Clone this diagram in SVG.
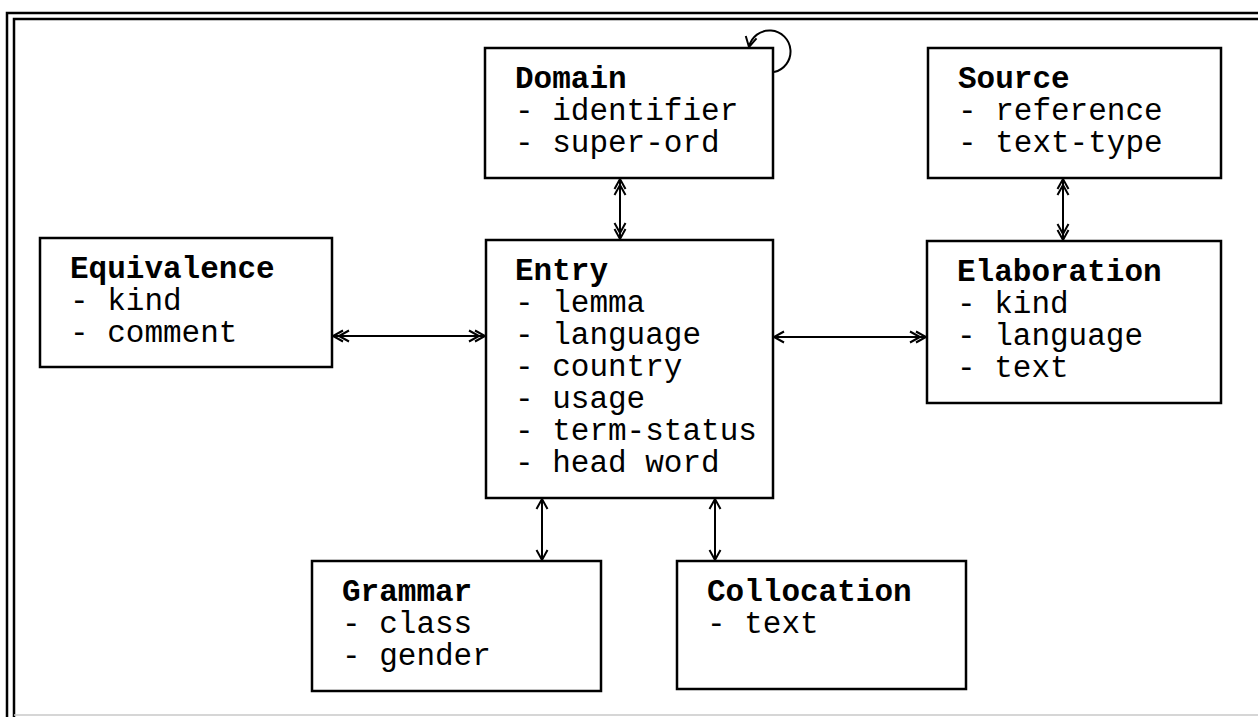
<svg xmlns="http://www.w3.org/2000/svg" width="1258" height="717" viewBox="0 0 1258 717">
<style>
.box{fill:#fff;stroke:#000;stroke-width:2.5}
.t{font-family:"Liberation Mono","Courier New",monospace;font-size:31px;fill:#000}
.b{font-weight:bold}
.c{fill:none;stroke:#000;stroke-width:2}
.frame{fill:none;stroke:#000;stroke-width:2.5}
</style>
<defs>
<marker id="s" markerUnits="userSpaceOnUse" orient="auto-start-reverse" refX="0" refY="0" markerWidth="20" markerHeight="20" viewBox="-20 -10 20 20" overflow="visible">
<path d="M -10 -5.5 L 0 0 L -10 5.5" fill="none" stroke="#000" stroke-width="2"/>
</marker>
<marker id="d" markerUnits="userSpaceOnUse" orient="auto-start-reverse" refX="0" refY="0" markerWidth="20" markerHeight="20" viewBox="-20 -10 20 20" overflow="visible">
<path d="M -10 -5.5 L 0 0 L -10 5.5 M -16 -5.5 L -6 0 L -16 5.5" fill="none" stroke="#000" stroke-width="2"/>
</marker>
</defs>
<g id="frame">
<path class="frame" d="M 1258 13 L 7 13 L 7 717"/>
<path class="frame" d="M 1258 19 L 14 19 L 14 717"/>
<line x1="14" y1="715" x2="1258" y2="715" stroke="#c8c8c8" stroke-width="1.5"/>
</g>
<g id="domain">
<rect class="box" x="485" y="48" width="288" height="130"/>
<text class="t b" x="515" y="88">Domain</text>
<text class="t" x="515" y="120">- identifier</text>
<text class="t" x="515" y="152">- super-ord</text>
</g>
<g id="source">
<rect class="box" x="928" y="48" width="293" height="130"/>
<text class="t b" x="958" y="88">Source</text>
<text class="t" x="958" y="120">- reference</text>
<text class="t" x="958" y="152">- text-type</text>
</g>
<g id="equivalence">
<rect class="box" x="40" y="238" width="292" height="129"/>
<text class="t b" x="70" y="278">Equivalence</text>
<text class="t" x="70" y="310">- kind</text>
<text class="t" x="70" y="342">- comment</text>
</g>
<g id="entry">
<rect class="box" x="486" y="240" width="287" height="258"/>
<text class="t b" x="515" y="280">Entry</text>
<text class="t" x="515" y="312">- lemma</text>
<text class="t" x="515" y="344">- language</text>
<text class="t" x="515" y="376">- country</text>
<text class="t" x="515" y="408">- usage</text>
<text class="t" x="515" y="440">- term-status</text>
<text class="t" x="515" y="472">- head word</text>
</g>
<g id="elaboration">
<rect class="box" x="927" y="241" width="294" height="162"/>
<text class="t b" x="957" y="281">Elaboration</text>
<text class="t" x="957" y="313">- kind</text>
<text class="t" x="957" y="345">- language</text>
<text class="t" x="957" y="377">- text</text>
</g>
<g id="grammar">
<rect class="box" x="312" y="561" width="289" height="130"/>
<text class="t b" x="342" y="601">Grammar</text>
<text class="t" x="342" y="633">- class</text>
<text class="t" x="342" y="665">- gender</text>
</g>
<g id="collocation">
<rect class="box" x="677" y="561" width="289" height="128"/>
<text class="t b" x="707" y="601">Collocation</text>
<text class="t" x="707" y="633">- text</text>
</g>
<g id="connectors">
<path class="c" d="M 774 72 A 21 21 0 1 0 749 47" marker-end="url(#s)"/>
<line class="c" x1="620" y1="179" x2="620" y2="239" marker-start="url(#d)" marker-end="url(#d)"/>
<line class="c" x1="1063" y1="179" x2="1063" y2="240" marker-start="url(#d)" marker-end="url(#d)"/>
<line class="c" x1="333" y1="336" x2="485" y2="336" marker-start="url(#d)" marker-end="url(#d)"/>
<line class="c" x1="774" y1="337" x2="926" y2="337" marker-start="url(#s)" marker-end="url(#d)"/>
<line class="c" x1="542" y1="499" x2="542" y2="560" marker-start="url(#s)" marker-end="url(#s)"/>
<line class="c" x1="715" y1="499" x2="715" y2="560" marker-start="url(#s)" marker-end="url(#s)"/>
</g>
</svg>
